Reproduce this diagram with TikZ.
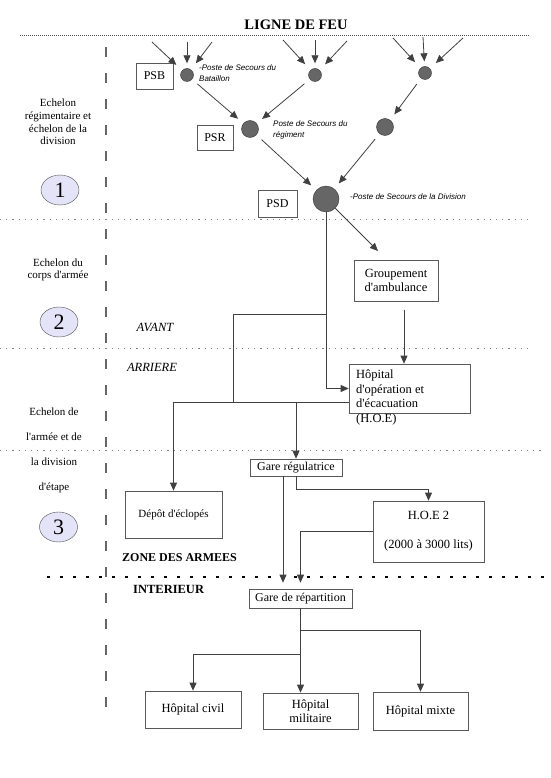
\documentclass[tikz,border=0pt]{standalone}
\usepackage{fontspec}
\setmainfont{Liberation Serif}[Ligatures=TeXOff]
\newfontfamily\notefont{Liberation Sans}
\usetikzlibrary{arrows.meta,shapes.geometric}
\definecolor{echelonfill}{RGB}{228,228,248}

\begin{document}
\begin{tikzpicture}[x=1pt, y=-1pt,
  link/.style={draw=black!75, line width=0.8pt},
  arr/.style={link, -{Triangle[length=8pt,width=7pt]}},
  feed/.style={arr, shorten <=7pt, shorten >=7pt},
  post/.style={circle, draw=black!80, fill=black!60, inner sep=0pt},
  unit/.style={draw=black!65, line width=0.7pt, inner sep=0pt, align=center},
  tag/.style={ellipse, draw=black!70, fill=echelonfill, minimum width=38pt, minimum height=30pt, inner sep=0pt, font=\fontsize{22}{24}\selectfont},
  zone/.style={draw=gray, line width=0.8pt, dash pattern=on 1.2pt off 5pt},
  note/.style={font=\notefont\itshape\fontsize{8}{11}\selectfont, align=left, inner sep=0pt}
]
\def\boxfont{\fontsize{12.5}{14}\selectfont}
\def\sidefont{\fontsize{11}{12.7}\selectfont}
\useasboundingbox (0,0) rectangle (550,778);

\begin{scope} % FRAME LINES
\node[font=\bfseries\fontsize{14.5}{17}\selectfont] (feu) at (296,25) {LIGNE DE FEU};
\draw[draw=black!70, line width=0.6pt, dash pattern=on 1pt off 1pt] (20,35) -- (530,35);
\draw[zone] (0,219) -- (533,219);
\draw[zone] (0,348) -- (533,348);
\draw[zone] (0,450) -- (545,450);
\draw[black, line width=2.6pt, dash pattern=on 2.6pt off 10.4pt] (47,577) -- (545,577);
\draw[gray!80!black, line width=1.3pt, dash pattern=on 10pt off 16pt] (106,47) -- (106,720);
\end{scope}

\begin{scope} % LEFT COLUMN
\node[align=center, font=\sidefont] (echA) at (58,122) {Echelon\\régimentaire et\\échelon de la\\division};
\node[tag] (one) at (60,190) {1};
\node[align=center, font=\sidefont] (echB) at (58,270) {Echelon du\\corps d'armée};
\node[tag] (two) at (59,322) {2};
\node[align=center, font=\fontsize{11}{25}\selectfont] (echC) at (54,450.5) {Echelon de\\l'armée et de\\la division\\d'étape};
\node[tag] (three) at (58.5,527) {3};

\node[font=\itshape\fontsize{12.5}{15}\selectfont] (avant) at (155,327) {AVANT};
\node[font=\itshape\fontsize{12.5}{15}\selectfont] (arriere) at (152,367) {ARRIERE};
\node[font=\bfseries\fontsize{12}{14}\selectfont, anchor=west, inner sep=0pt] (zoneArm) at (122,558) {ZONE DES ARMEES};
\node[font=\bfseries\fontsize{12.5}{14}\selectfont, anchor=west, inner sep=0pt] (interieur) at (133,589) {INTERIEUR};
\end{scope}

\begin{scope} % POSTES DE SECOURS
\node[post, minimum size=13pt] (psbA) at (187,75) {};
\node[post, minimum size=13pt] (psbB) at (315,75) {};
\node[post, minimum size=13pt] (psbC) at (425,73) {};
\node[post, minimum size=17pt] (psrA) at (250,129) {};
\node[post, minimum size=17pt] (psrB) at (385,127) {};
\node[post, minimum size=26pt] (psd) at (326,199) {};

\node[unit, minimum width=37pt, minimum height=26pt, font=\fontsize{12}{14}\selectfont] (psb) at (154.5,76) {PSB};
\node[unit, minimum width=36pt, minimum height=25pt, font=\fontsize{12}{14}\selectfont] (psr) at (215,137.5) {PSR};
\node[unit, minimum width=39pt, minimum height=27pt, font=\fontsize{12}{14}\selectfont] (psdBox) at (277.5,203.5) {PSD};

\node[note, anchor=north west] (noteB) at (199,65) {-Poste de Secours du\\Bataillon};
\node[note, anchor=north west] (noteR) at (273,121) {Poste de Secours du\\régiment};
\node[note, anchor=west] (noteD) at (350,197) {-Poste de Secours de la Division};

\draw[arr, shorten >=8pt] (152,42) coordinate (inA1) -- (psbA);
\draw[arr, shorten >=5pt] (187,42) coordinate (inA2) -- (psbA);
\draw[arr, shorten >=8pt] (212,42) coordinate (inA3) -- (psbA);
\draw[arr, shorten >=8pt] (283,40) coordinate (inB1) -- (psbB);
\draw[arr, shorten >=5pt] (315,40) coordinate (inB2) -- (psbB);
\draw[arr, shorten >=8pt] (347,41) coordinate (inB3) -- (psbB);
\draw[arr, shorten >=8pt] (393,38) coordinate (inC1) -- (psbC);
\draw[arr, shorten >=5pt] (423,37) coordinate (inC2) -- (psbC);
\draw[arr, shorten >=8pt] (463,38) coordinate (inC3) -- (psbC);

\draw[feed] (psbA) -- (psrA);
\draw[feed] (psbB) -- (psrA);
\draw[feed] (psbC) -- (psrB);
\draw[feed] (psrA) -- (psd);
\draw[feed] (psrB) -- (psd);
\end{scope}

\begin{scope} % ARMEE
\node[unit, minimum width=84pt, minimum height=41pt, font=\boxfont] (grp) at (396,280.5) {Groupement\\d'ambulance};
\node[unit, minimum width=121pt, minimum height=49pt] (hoe) at (409.5,388.5) {};
\node[anchor=north west, align=left, inner sep=0pt, font=\fontsize{12.5}{14.5}\selectfont] (hoeText) at (356,370) {Hôpital\\d'opération et\\d'écacuation\\(H.O.E)};
\node[unit, minimum width=92pt, minimum height=17pt, font=\fontsize{12}{14}\selectfont] (gareReg) at (296,467.5) {Gare régulatrice};
\node[unit, minimum width=97pt, minimum height=47pt, font=\fontsize{11}{13}\selectfont] (depot) at (173.5,514.5) {Dépôt d'éclopés};
\node[unit, minimum width=111pt, minimum height=61pt, font=\fontsize{12.5}{29}\selectfont] (hoeB) at (428.5,531.5) {H.O.E 2\\(2000 à 3000 lits)};

\coordinate (splitA) at (326,314);
\coordinate (joinA) at (233,402);
\coordinate (grpIn) at (378,251);

\draw[arr] (psd.south) |- (hoe.west);
\draw[link] (splitA) -| (joinA);
\draw[arr] (hoe.west |- joinA) -| (depot.north);
\draw[arr] (gareReg.north |- joinA) -- (gareReg.north);
\draw[arr] (psd) -- (grpIn);
\draw[arr, shorten <=9pt] ([xshift=8pt]grp.south) -- ([xshift=8pt]grp.south |- hoe.north);
\end{scope}

\begin{scope} % INTERIEUR
\node[unit, minimum width=103pt, minimum height=19pt, font=\fontsize{12}{14}\selectfont] (gareRep) at (300.5,598.5) {Gare de répartition};
\node[unit, minimum width=96pt, minimum height=37pt, font=\boxfont] (civil) at (193,709.5) {Hôpital civil};
\node[unit, minimum width=95pt, minimum height=36pt, font=\boxfont] (militaire) at (310.5,711) {Hôpital\\militaire};
\node[unit, minimum width=95pt, minimum height=38pt, font=\boxfont] (mixte) at (420.5,711) {Hôpital mixte};

\draw[arr, shorten >=6pt] ([xshift=-13pt]gareReg.south) -- ([xshift=-13pt]gareReg.south |- gareRep.north);
\draw[arr] (gareReg.south) -- ++(0,13) -| (hoeB.north);
\draw[arr, shorten >=6pt] (hoeB.west) -| (gareRep.north);

\coordinate (splitR) at (301,630);
\coordinate (splitL) at (301,654);
\draw[arr] (gareRep.south) -- (gareRep.south |- militaire.north);
\draw[arr] (splitR) -| (mixte.north);
\draw[arr] (splitL) -| (civil.north);
\end{scope}
\end{tikzpicture}
\end{document}
